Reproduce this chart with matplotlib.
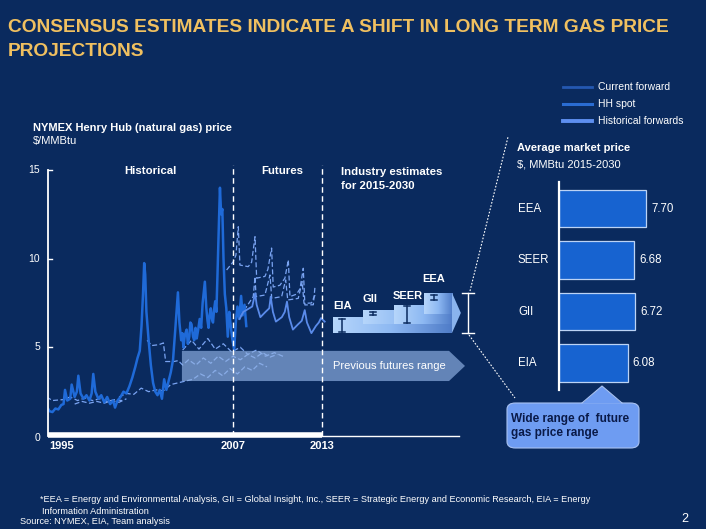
import matplotlib
matplotlib.use('Agg')
import matplotlib.pyplot as plt
from matplotlib.patches import Polygon, FancyBboxPatch
from matplotlib.lines import Line2D
from matplotlib.colors import LinearSegmentedColormap
import numpy as np

# ---------------- data ----------------
spot_year = [1994.4, 1994.6, 1994.8, 1995.0, 1995.2, 1995.4, 1995.55, 1995.65, 1995.8, 1996.0, 1996.1,
             1996.3, 1996.45, 1996.55, 1996.7, 1996.9, 1997.1, 1997.3, 1997.45, 1997.56, 1997.7, 1997.9,
             1998.1, 1998.3, 1998.5, 1998.7, 1998.9, 1999.03, 1999.2, 1999.4, 1999.6, 1999.8, 2000.0,
             2000.2, 2000.4, 2000.55, 2000.7, 2000.82, 2000.92, 2001.0, 2001.07, 2001.15, 2001.3, 2001.45,
             2001.6, 2001.75, 2001.9, 2002.05, 2002.2, 2002.35, 2002.5, 2002.65, 2002.8, 2002.95, 2003.1,
             2003.28, 2003.38, 2003.5, 2003.58, 2003.65, 2003.75, 2003.87, 2003.95, 2004.05, 2004.12,
             2004.2, 2004.3, 2004.38, 2004.47, 2004.55, 2004.65, 2004.75, 2004.85,
             2004.95, 2005.1, 2005.2, 2005.28, 2005.35, 2005.42, 2005.5, 2005.58, 2005.65, 2005.72, 2005.8,
             2005.88, 2005.95, 2006.05, 2006.12, 2006.2,
             2006.28, 2006.36, 2006.45, 2006.55, 2006.65, 2006.75, 2006.85, 2006.95, 2007.08, 2007.2,
             2007.3, 2007.42, 2007.55, 2007.65, 2007.78, 2007.9]
spot_price = [1.7, 1.4, 1.35, 1.55, 1.5, 1.75, 1.8, 2.6, 2.0, 2.1, 2.9,
              2.2, 2.5, 3.4, 2.4, 2.1, 2.3, 2.0, 2.4, 3.5, 2.5, 2.1,
              2.3, 1.9, 2.2, 1.8, 2.0, 1.6, 2.0, 2.2, 2.5, 2.4, 2.8,
              3.3, 3.9, 4.4, 4.8, 6.2, 8.0, 9.75, 9.1, 7.0, 5.4, 4.0,
              3.0, 2.5, 2.3, 2.6, 2.1, 3.2, 2.6, 3.1, 3.6, 4.3, 6.0,
              8.1, 6.4, 5.4, 5.8, 5.0, 5.7, 6.0, 5.2, 5.6, 6.4,
              6.3, 5.6, 5.4, 6.1, 5.5, 6.0, 6.6, 6.1,
              7.5, 8.7, 7.2, 6.5, 6.1, 6.8, 7.2, 6.6, 6.4, 7.1, 7.6,
              7.0, 9.0, 12.0, 14.0, 12.5,
              12.8, 10.0, 8.0, 7.2, 5.6, 7.0, 6.2, 5.5, 4.85, 6.5,
              7.3, 6.6, 7.9, 6.8, 7.4, 6.2]

curfwd_year = [2007.45, 2007.7, 2008.3, 2008.5, 2008.6, 2008.85, 2009.2, 2009.45, 2009.55, 2009.7, 2009.9,
               2010.3, 2010.5, 2010.65, 2010.8, 2011.05, 2011.4, 2011.65, 2011.85, 2012.0, 2012.3,
               2012.6, 2012.8, 2012.95, 2013.2]
curfwd_price = [6.6, 7.0, 7.3, 8.05, 7.4, 6.7, 7.0, 7.2, 7.86, 7.0, 6.45,
                6.7, 7.0, 7.58, 6.7, 6.0, 6.3, 6.5, 7.1, 6.4, 5.8,
                6.2, 6.4, 6.65, 6.45]

hf1_year = [1994.4, 1994.8, 1995.5, 1996.0, 1996.5, 1997.0, 1997.5, 1998.0, 1998.5, 1999.0, 1999.5]
hf1_price = [2.2, 2.0, 2.05, 2.2, 2.0, 2.15, 2.0, 2.1, 1.95, 2.05, 2.0]
hf2_year = [1996.3, 1996.8, 1997.3, 1997.8, 1998.3, 1998.8, 1999.3, 1999.8]
hf2_price = [1.8, 1.95, 1.85, 1.95, 1.85, 2.0, 1.9, 2.1]
hf3_year = [1999.3, 1999.8, 2000.3, 2000.8, 2001.3, 2001.8, 2002.3, 2002.8, 2003.3, 2003.8, 2004.3,
            2004.8, 2005.3, 2005.8, 2006.3, 2006.8, 2007.3, 2007.8, 2008.3, 2008.8, 2009.3]
hf3_price = [2.2, 2.4, 2.35, 2.7, 2.5, 2.6, 2.55, 2.9, 3.0, 3.1, 3.2,
             3.5, 3.3, 3.7, 3.4, 3.8, 3.5, 3.9, 3.7, 4.1, 3.9]
hf4_year = [2001.2, 2001.5, 2002.0, 2002.3, 2002.45, 2003.0, 2003.3, 2003.6, 2004.0, 2004.5, 2005.0,
            2005.5, 2006.0, 2006.5, 2007.0, 2007.5, 2008.0, 2008.5, 2009.0, 2009.5, 2010.0]
hf4_price = [5.4, 5.1, 5.15, 5.25, 4.2, 4.2, 4.25, 4.0, 4.3, 4.0, 4.4,
             4.1, 4.5, 4.2, 4.5, 4.3, 4.6, 4.4, 4.7, 4.45, 4.6]
hf5_year = [2003.6, 2004.2, 2004.7, 2005.3, 2005.8, 2006.35, 2006.9, 2007.5, 2008.0, 2008.6, 2009.2,
            2009.8, 2010.5]
hf5_price = [4.85, 5.4, 4.9, 5.5, 4.9, 5.2, 4.75, 5.0, 4.6, 4.85, 4.5, 4.7, 4.45]
hf6_year = [2006.57, 2007.02, 2007.2, 2007.36, 2007.47, 2008.03, 2008.26, 2008.49, 2008.6, 2009.16,
            2009.36, 2009.61, 2009.72, 2010.17, 2010.51, 2010.74, 2010.85, 2011.3, 2011.53, 2011.75,
            2011.86, 2012.43, 2012.54]
hf6_price = [9.36, 9.83, 10.2, 11.8, 9.64, 9.55, 9.8, 11.24, 8.9, 9.0, 9.4, 10.6, 8.4, 8.5, 8.9, 9.93,
             7.86, 8.0, 8.3, 9.46, 7.39, 7.4, 8.4]
hf7_year = [2007.47, 2008.37, 2008.49, 2008.56, 2009.16, 2009.5, 2009.62, 2010.29, 2010.56, 2010.7,
            2011.41, 2011.68, 2011.8, 2012.3, 2012.55]
hf7_price = [6.73, 7.86, 8.98, 7.86, 7.95, 9.08, 7.76, 7.86, 8.8, 7.67, 7.76, 8.7, 7.48, 7.5, 7.95]
hist_forwards = [(hf1_year, hf1_price), (hf2_year, hf2_price), (hf3_year, hf3_price),
                 (hf4_year, hf4_price), (hf5_year, hf5_price), (hf6_year, hf6_price),
                 (hf7_year, hf7_price)]

# previous futures range (band) and industry estimates
prev_range_low, prev_range_high = 3.1, 4.8
prev_range_start = 2003.55
est_labels = ['EIA', 'GII', 'SEER', 'EEA']
est_start = [2013.76, 2015.78, 2017.88, 2019.9]
est_box_low = [5.81, 6.3, 6.33, 6.9]
est_box_high = [6.66, 7.05, 7.39, 8.07]
est_year = [2014.36, 2016.46, 2018.76, 2020.58]
est_low = [5.85, 6.85, 6.38, 7.66]
est_high = [6.62, 7.0, 7.35, 7.95]

avg_labels = ['EIA', 'GII', 'SEER', 'EEA']
avg_values = [6.08, 6.72, 6.68, 7.70]

# ---------------- figure ----------------
W, H = 706, 529
BG = '#0A2A5E'
WHITE = 'white'
FONT = ['Liberation Sans', 'DejaVu Sans']
plt.rcParams['font.family'] = FONT

fig = plt.figure(figsize=(W / 100, H / 100), dpi=100, facecolor=BG)


def fx(px):
    return px / W


def fy(py):
    return 1 - py / H


# title
fig.text(fx(8), fy(28), 'CONSENSUS ESTIMATES INDICATE A SHIFT IN LONG TERM GAS PRICE',
         color='#F0C060', fontsize=13.8, fontweight='bold', va='center', ha='left')
fig.text(fx(8), fy(51), 'PROJECTIONS', color='#F0C060', fontsize=13.8, fontweight='bold',
         va='center', ha='left')

# legend (top right)
leg = [('Current forward', '#2458B0', 2.0, 87), ('HH spot', '#2A6CD2', 2.2, 104),
       ('Historical forwards', '#5E8FF0', 2.8, 121)]
for lab, col, lw, py in leg:
    fig.add_artist(Line2D([fx(563), fx(592)], [fy(py), fy(py)], color=col, lw=lw,
                          transform=fig.transFigure))
    fig.text(fx(598), fy(py), lab, color=WHITE, fontsize=7.5, va='center', ha='left')

fig.text(fx(33), fy(128), 'NYMEX Henry Hub (natural gas) price', color=WHITE, fontsize=8,
         fontweight='bold', va='center')
fig.text(fx(33), fy(141), '$/MMBtu', color=WHITE, fontsize=8, va='center')

# ---------------- main line chart ----------------
X0, X1 = 1994.5, 2022.68
ax = fig.add_axes([fx(48), fy(436), fx(465) - fx(48), fy(170) - fy(436)])
ax.set_facecolor('none')
ax.set_xlim(X0, X1)
ax.set_ylim(0, 15)
for s in ax.spines.values():
    s.set_visible(False)
ax.set_xticks([])
ax.set_yticks([])

# axes lines
ax.plot([X0, X0], [0, 15], color=WHITE, lw=1.3, clip_on=False, zorder=6)
for v in [5, 10, 15]:
    ax.plot([X0, X0 + 0.25], [v, v], color=WHITE, lw=1.0, clip_on=False, zorder=6)
ax.plot([X0, 2013], [0.05, 0.05], color=WHITE, lw=4, clip_on=False, zorder=6, solid_capstyle='butt')
ax.plot([2013, 2022.3], [0, 0], color=WHITE, lw=1.0, clip_on=False, zorder=6)

for lab, py in [('15', 170), ('10', 259), ('5', 347), ('0', 438)]:
    fig.text(fx(40), fy(py), lab, color=WHITE, fontsize=7.5, ha='right', va='center')
for lab, px in [('1995', 62), ('2007', 233), ('2013', 322)]:
    fig.text(fx(px), fy(446), lab, color=WHITE, fontsize=8, fontweight='bold', ha='center', va='center')

# dashed dividers
for xv in [2007, 2013]:
    ax.plot([xv, xv], [0, 15.28], color=WHITE, lw=1.0, ls=(0, (4, 2.5)), clip_on=False, zorder=7)

# historical forwards
for yrs, pr in hist_forwards:
    ax.plot(yrs, pr, color='#7AA4F2', lw=0.9, ls=(0, (4, 2)), zorder=3)
# HH spot
ax.plot(spot_year, spot_price, color='#1F6AD8', lw=1.8, zorder=4, solid_joinstyle='round')
# current forward
ax.plot(curfwd_year, curfwd_price, color='#5A8BEA', lw=1.3, zorder=4)

# previous futures range band with arrow
band = Polygon([(prev_range_start, prev_range_low), (2021.6, prev_range_low),
                (2022.68, (prev_range_low + prev_range_high) / 2), (2021.6, prev_range_high),
                (prev_range_start, prev_range_high)], closed=True,
               facecolor='#8FB0E2', edgecolor='none', alpha=0.68, zorder=5, clip_on=False)
ax.add_patch(band)
fig.text(fx(333), fy(366), 'Previous futures range', color=WHITE, fontsize=8, va='center')

# industry estimate boxes (gradient)
cmap = LinearSegmentedColormap.from_list('g', ['#B6D6FB', '#8DB8F2', '#4F7CC8'])
grad = np.linspace(0, 1, 256).reshape(1, -1)
arrow_base, arrow_tip = 2021.8, 2022.4
for i in range(4):
    ax.imshow(grad, extent=[est_start[i], arrow_base, est_box_low[i], est_box_high[i]],
              aspect='auto', cmap=cmap, zorder=8 + i, interpolation='bilinear')
head = Polygon([(arrow_base, est_box_low[0]), (arrow_base, est_box_high[3]),
                (arrow_tip, (est_box_low[0] + est_box_high[3]) / 2 + 0.0)], closed=True,
               facecolor='#8AB4EE', edgecolor='none', zorder=12, clip_on=False)
ax.add_patch(head)
ax.set_xlim(X0, X1)
ax.set_ylim(0, 15)

# error bars on boxes
for xv, lo, hi in zip(est_year, est_low, est_high):
    ax.plot([xv, xv], [lo, hi], color='#0A2A5E', lw=1.1, zorder=13)
    for yv in (lo, hi):
        ax.plot([xv - 0.22, xv + 0.22], [yv, yv], color='#0A2A5E', lw=1.1, zorder=13)

for lab, px, py in zip(est_labels, [343, 370, 408, 434], [306, 299, 296, 279]):
    fig.text(fx(px), fy(py), lab, color=WHITE, fontsize=8, fontweight='bold', ha='center', va='center')

fig.text(fx(150), fy(171), 'Historical', color=WHITE, fontsize=8.2, fontweight='bold', ha='center', va='center')
fig.text(fx(282), fy(171), 'Futures', color=WHITE, fontsize=8.2, fontweight='bold', ha='center', va='center')
fig.text(fx(341), fy(172), 'Industry estimates', color=WHITE, fontsize=8.2,
         fontweight='bold', ha='left', va='center')
fig.text(fx(341), fy(186), 'for 2015-2030', color=WHITE, fontsize=8.2,
         fontweight='bold', ha='left', va='center')

# bracket
bx = 2022.88
ax.plot([bx, bx], [est_box_low[0], est_box_high[3]], color=WHITE, lw=1.0, clip_on=False, zorder=13)
for yv in (est_box_low[0], est_box_high[3]):
    ax.plot([bx - 0.4, bx + 0.4], [yv, yv], color=WHITE, lw=1.0, clip_on=False, zorder=13)

# dotted connectors
fig.add_artist(Line2D([fx(470), fx(508)], [fy(291), fy(137)], color=WHITE, lw=0.8,
                      ls=(0, (1.5, 1.5)), transform=fig.transFigure))
fig.add_artist(Line2D([fx(469), fx(515)], [fy(335), fy(398)], color=WHITE, lw=0.8,
                      ls=(0, (1.5, 1.5)), transform=fig.transFigure))

# ---------------- right bar chart ----------------
PXU = 11.3
axb = fig.add_axes([fx(559), fy(390), fx(706) - fx(559), fy(182) - fy(390)])
axb.set_facecolor('none')
axb.set_xlim(0, 147 / PXU)
axb.set_ylim(-0.524, 3.515)
for s in axb.spines.values():
    s.set_visible(False)
axb.set_xticks([])
axb.set_yticks([])
ypos = np.arange(len(avg_values))
axb.barh(ypos, avg_values, height=0.72, color='#1763D0', edgecolor='#BCD3F5', lw=0.9, zorder=2)
axb.plot([0, 0], [-0.524, 3.515], color=WHITE, lw=1.6, zorder=3, clip_on=False)
for y, v, lab in zip(ypos, avg_values, avg_labels):
    axb.text(v + 5 / PXU, y, f'{v:.2f}', color=WHITE, fontsize=8.3, va='center', ha='left')
    axb.text(-41 / PXU, y, lab, color=WHITE, fontsize=8.3, va='center', ha='left', clip_on=False)

fig.text(fx(517), fy(148), 'Average market price', color=WHITE, fontsize=8, fontweight='bold', va='center')
fig.text(fx(517), fy(164), '$, MMBtu 2015-2030', color=WHITE, fontsize=8, va='center')

# callout
box = FancyBboxPatch((fx(507), fy(448)), fx(639) - fx(507), fy(403) - fy(448),
                     boxstyle='round,pad=0,rounding_size=0.012', transform=fig.transFigure,
                     facecolor='#6E9CF2', edgecolor='#A8C2F2', lw=0.8)
fig.add_artist(box)
tri = Polygon([(fx(582), fy(403.5)), (fx(602), fy(386)), (fx(622), fy(403.5))], closed=True,
              transform=fig.transFigure, facecolor='#6E9CF2', edgecolor='none')
fig.add_artist(tri)
fig.add_artist(Line2D([fx(582), fx(602), fx(622)], [fy(403), fy(386), fy(403)], color='#A8C2F2',
                      lw=0.8, transform=fig.transFigure))
fig.text(fx(511), fy(419), 'Wide range of  future', color='#0A1A48', fontsize=8.5,
         fontweight='bold', va='center', ha='left')
fig.text(fx(511), fy(433), 'gas price range', color='#0A1A48', fontsize=8.5,
         fontweight='bold', va='center', ha='left')

# footnotes
fig.text(fx(40), fy(499), '*EEA = Energy and Environmental Analysis, GII = Global Insight, Inc., SEER = '
         'Strategic Energy and Economic Research, EIA = Energy', color=WHITE, fontsize=6.6, va='center')
fig.text(fx(42), fy(511), 'Information Administration', color=WHITE, fontsize=6.6, va='center')
fig.text(fx(20), fy(522), 'Source: NYMEX, EIA, Team analysis', color=WHITE, fontsize=6.6, va='center')
fig.text(fx(685), fy(519), '2', color=WHITE, fontsize=9, va='center', ha='center')

fig.savefig('out.png', dpi=100, facecolor=BG)
